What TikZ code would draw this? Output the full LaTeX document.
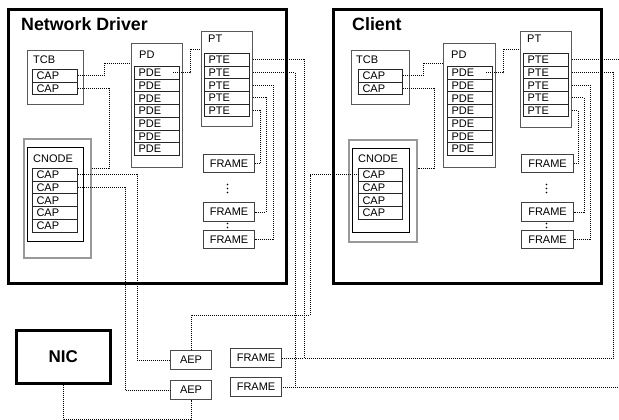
\documentclass[tikz,border=0pt]{standalone}
\usepackage{fontspec}
\setmainfont{Liberation Sans}
\begin{document}
\begin{tikzpicture}[x=1pt,y=-1pt,
  every node/.style={font=\fontsize{11}{13}\selectfont, inner sep=0pt},
  outerbox/.style={draw=black, line width=3pt, anchor=north west},
  titletext/.style={anchor=west, font=\fontsize{17.8}{20}\selectfont\bfseries},
  grp/.style={draw=black!65, line width=1.1pt, anchor=north west},
  lbl/.style={anchor=west},
  cnodeouter/.style={draw=black!40, line width=2pt, anchor=north west},
  cnodeinner/.style={draw=black, line width=0.9pt, anchor=north west},
  rowbox/.style={draw=black!85, line width=1pt, anchor=north west, minimum height=12.7pt, text width=37pt, inner xsep=4pt, align=left},
  framebox/.style={draw=black!75, line width=1.1pt, anchor=north west, minimum width=51pt},
  aepbox/.style={draw=black!70, line width=1.1pt, anchor=north west, minimum width=41pt, minimum height=19pt},
  link/.style={draw=black, line width=0.9pt, dash pattern=on 1pt off 1pt},
  dotmark/.style={fill=black}
]
\useasboundingbox (0,0) rectangle (619,420);

% ===== Network Driver =====
\node[outerbox, minimum width=278pt, minimum height=274pt] (nd) at (7,8) {};
\node[titletext] (ndtitle) at (21,24) {Network Driver};

\node[grp, minimum width=56pt, minimum height=54pt] (ndtcb) at (27,50) {};
\node[lbl] (ndtcblbl) at (33,60) {TCB};
\node[rowbox] (ndcap1) at (32,69) {CAP};
\node[rowbox] (ndcap2) at (32,81.7) {CAP};

\node[grp, minimum width=51pt, minimum height=124pt] (ndpd) at (131,43) {};
\node[lbl] (ndpdlbl) at (139,55) {PD};
\foreach \i in {1,...,7}{
  \node[rowbox] (ndpde\i) at (134,{66+(\i-1)*12.7}) {PDE};
}

\node[grp, minimum width=51pt, minimum height=95pt] (ndpt) at (201,31) {};
\node[lbl] (ndptlbl) at (208,39) {PT};
\foreach \i in {1,...,5}{
  \node[rowbox] (ndpte\i) at (204,{53+(\i-1)*12.7}) {PTE};
}

\node[cnodeouter, minimum width=67pt, minimum height=119pt] (ndcn) at (23,138) {};
\node[cnodeinner, minimum width=56pt, minimum height=94pt] (ndcni) at (27,147) {};
\node[lbl] (ndcnlbl) at (33,159) {CNODE};
\foreach \i in {1,...,5}{
  \node[rowbox] (ndcc\i) at (32,{168+(\i-1)*12.7}) {CAP};
}

\node[framebox, minimum height=18pt] (ndf1) at (203,154) {FRAME};
\node[framebox, minimum height=19pt] (ndf2) at (203,202) {FRAME};
\node[framebox, minimum height=18pt] (ndf3) at (203,230) {FRAME};
\foreach \yy in {184.5,188.5,192.5,223.5,227.5}{
  \fill[dotmark] (227.5,\yy) circle (0.9pt);
}

% ===== Client =====
\node[outerbox, minimum width=268pt, minimum height=274pt] (cl) at (332,8) {};
\node[titletext] (cltitle) at (352,24) {Client};

\node[grp, minimum width=58pt, minimum height=54pt] (cltcb) at (351,50) {};
\node[lbl] (cltcblbl) at (356,60) {TCB};
\node[rowbox, text width=36pt] (clcap1) at (358,69) {CAP};
\node[rowbox, text width=36pt] (clcap2) at (358,81.7) {CAP};

\node[grp, minimum width=52pt, minimum height=124pt] (clpd) at (443,43) {};
\node[lbl] (clpdlbl) at (451,55) {PD};
\foreach \i in {1,...,7}{
  \node[rowbox] (clpde\i) at (447,{66+(\i-1)*12.7}) {PDE};
}

\node[grp, minimum width=51pt, minimum height=96pt] (clpt) at (520,31) {};
\node[lbl] (clptlbl) at (527,39) {PT};
\foreach \i in {1,...,5}{
  \node[rowbox] (clpte\i) at (523,{53+(\i-1)*12.7}) {PTE};
}

\node[cnodeouter, minimum width=68pt, minimum height=102pt] (clcn) at (348,139) {};
\node[cnodeinner, minimum width=57pt, minimum height=84pt] (clcni) at (352,148) {};
\node[lbl] (clcnlbl) at (358,159) {CNODE};
\foreach \i in {1,...,4}{
  \node[rowbox, text width=36pt] (clcc\i) at (358,{168+(\i-1)*12.7}) {CAP};
}

\node[framebox, minimum width=52pt, minimum height=18pt] (clf1) at (521,154) {FRAME};
\node[framebox, minimum width=52pt, minimum height=19pt] (clf2) at (521,202) {FRAME};
\node[framebox, minimum width=52pt, minimum height=18pt] (clf3) at (521,230) {FRAME};
\foreach \yy in {184.5,188.5,192.5,223.5,227.5}{
  \fill[dotmark] (546.5,\yy) circle (0.9pt);
}

% ===== Bottom =====
\node[draw=black, line width=2.5pt, anchor=north west, minimum width=94pt, minimum height=53pt,
      font=\fontsize{17}{20}\selectfont\bfseries] (nic) at (15,329) {NIC};
\node[aepbox] (aep1) at (170,350) {AEP};
\node[aepbox] (aep2) at (170,380) {AEP};
\node[framebox, minimum height=19pt] (fb1) at (230,348) {FRAME};
\node[framebox, minimum height=19pt] (fb2) at (230,377) {FRAME};

% ===== Connectors: Network Driver =====
\draw[link] (ndcap1.east) -| (104,63) -- (ndpd.west |- 104,63);
\draw[link] (ndcap2.east) -| (109,168) -- (ndcn.east |- 109,168);
\draw[link] ([xshift=-7pt]ndpde1.east) -| (190,49) -- (ndpt.west |- 190,49);
\draw[link] (ndpt.east |- ndpte1.east) -| ([xshift=22pt]fb1.east) -- (fb1.east);
\draw[link] (ndpt.east |- ndpte2.east) -| ([xshift=13pt]fb2.east) -- (fb2.east);
\draw[link] (ndpt.east |- ndpte3.east) -| ([xshift=18pt]ndf3.east) -- (ndf3.east);
\draw[link] (ndpt.east |- ndpte4.east) -| ([xshift=11pt]ndf2.east) -- (ndf2.east);
\draw[link] (ndpt.east |- ndpte5.east) -| ([xshift=5pt]ndf1.east) -- (ndf1.east);
\draw[link] (ndcc1.east) -| ([xshift=-33pt]aep1.west) -- (aep1.west);
\draw[link] (ndcc2.east) -| ([xshift=-45pt]aep2.west) -- (aep2.west);
\draw[link] (aep1.north) |- (310,315) |- (clcc1.west);
\draw[link] (nic.south) -- ++(0,35) -| (aep2.south);

% ===== Connectors: Client =====
\draw[link] (clcap1.east) -| (423,63) -- (clpd.west |- 423,63);
\draw[link] (clcap2.east) -| (434,168) -- (clcn.east |- 434,168);
\draw[link] ([xshift=-7pt]clpde1.east) -| (503,49) -- (clpt.west |- 503,49);
\draw[link] (clpt.east |- clpte1.east) -- (619,0 |- clpte1.east);
\draw[link] (clpt.east |- clpte2.east) -| ([xshift=331pt]fb1.east) -- ([xshift=22pt]fb1.east);
\draw[link] ([xshift=13pt]fb2.east) -- (619,0 |- fb2.east);
\draw[link] (clpt.east |- clpte3.east) -| ([xshift=16pt]clf3.east) -- (clf3.east);
\draw[link] (clpt.east |- clpte4.east) -| ([xshift=10pt]clf2.east) -- (clf2.east);
\draw[link] (clpt.east |- clpte5.east) -| ([xshift=4pt]clf1.east) -- (clf1.east);
\end{tikzpicture}
\end{document}
